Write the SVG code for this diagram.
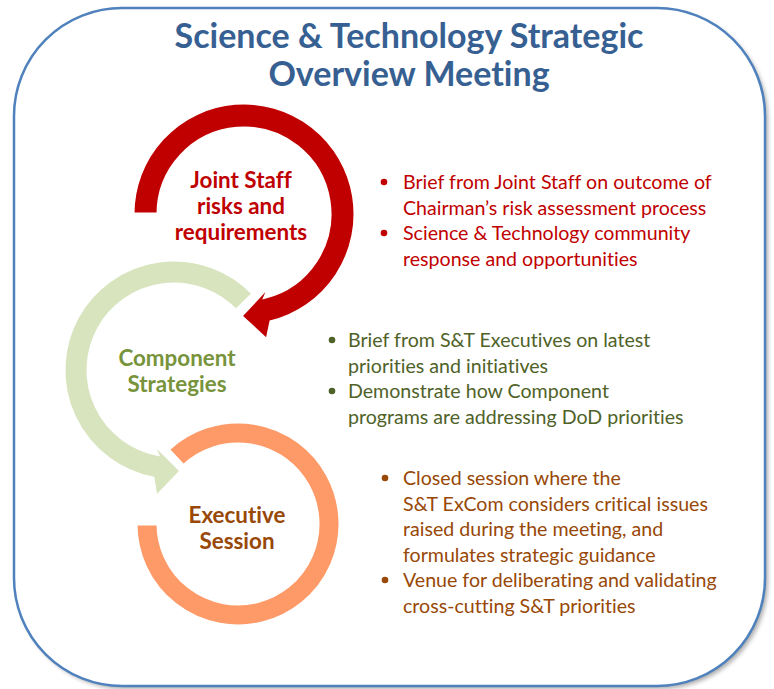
<svg xmlns="http://www.w3.org/2000/svg" width="774" height="689" viewBox="0 0 774 689">
<defs>
<filter id="sh" x="-5%" y="-5%" width="110%" height="110%"><feGaussianBlur stdDeviation="2"/></filter>
<style>
text{font-variant-ligatures:none;font-family:Lato,"Liberation Sans",sans-serif}
.title{font-weight:bold;font-size:34px;fill:#376092;text-anchor:middle}
.lbl{font-weight:bold;font-size:22.4px;text-anchor:middle}
.bt{font-size:19.6px}
.arc{stroke:#fff;stroke-width:3;stroke-linejoin:miter}
</style>
</defs>
<rect x="17" y="11" width="751" height="678" rx="108" fill="#777" opacity="0.6" filter="url(#sh)"/>
<rect x="14" y="8" width="751" height="678" rx="108" fill="#fff" stroke="#4F81BD" stroke-width="2.5"/>
<g id="title">
<text class="title" x="409" y="48">Science &amp; Technology Strategic</text>
<text class="title" x="409" y="86">Overview Meeting</text>
</g>
<g id="connectors">
<path id="orange-arc" class="arc" fill="#FD9A68" d="M168.4,449.4 A102,102 0 1 1 136,524 L158,524 A80,80 0 1 0 183.4,465.5 Z"/>
<path id="green-arc" class="arc" fill="#D7E4BD" d="M253.1,293.6 A110,110 0 1 0 153,478 L156,497 L181,471 L152,442 L157.6,454.4 A86,86 0 1 1 235.9,310.3 Z"/>
<path id="red-arc" class="arc" fill="#C00000" d="M133,214 A111,111 0 1 1 270.9,321.7 L267,340 L241,316 L270,285 L264.8,297.4 A86,86 0 1 0 158,214 Z"/>
</g>
<g id="joint-staff">
<text class="lbl" fill="#C00000"><tspan x="241" y="188">Joint Staff</tspan><tspan x="241" y="214">risks and</tspan><tspan x="241" y="240">requirements</tspan></text>
</g>
<g id="component-strategies">
<text class="lbl" fill="#77933C"><tspan x="177" y="366">Component</tspan><tspan x="177" y="392">Strategies</tspan></text>
</g>
<g id="executive-session">
<text class="lbl" fill="#984807"><tspan x="237" y="522.5">Executive</tspan><tspan x="237" y="548.5">Session</tspan></text>
</g>
<g id="joint-staff-notes" fill="#C00000">
<circle cx="384" cy="182" r="3.3"/><circle cx="384" cy="233" r="3.3"/>
<text class="bt" fill="#C00000"><tspan x="403" y="189">Brief from Joint Staff on outcome of</tspan><tspan x="403" y="214.5">Chairman’s risk assessment process</tspan><tspan x="403" y="240">Science &amp; Technology community</tspan><tspan x="403" y="265.5">response and opportunities</tspan></text>
</g>
<g id="component-notes" fill="#4F6228">
<circle cx="332" cy="340" r="3.3"/><circle cx="332" cy="391" r="3.3"/>
<text class="bt" fill="#4F6228"><tspan x="348" y="347">Brief from S&amp;T Executives on latest</tspan><tspan x="348" y="372.5">priorities and initiatives</tspan><tspan x="348" y="398">Demonstrate how Component</tspan><tspan x="348" y="423.5">programs are addressing DoD priorities</tspan></text>
</g>
<g id="executive-notes" fill="#984807">
<circle cx="385" cy="478" r="3.3"/><circle cx="385" cy="580" r="3.3"/>
<text class="bt" fill="#984807"><tspan x="403" y="485">Closed session where the</tspan><tspan x="403" y="510.5">S&amp;T ExCom considers critical issues</tspan><tspan x="403" y="536">raised during the meeting, and</tspan><tspan x="403" y="561.5">formulates strategic guidance</tspan><tspan x="403" y="587">Venue for deliberating and validating</tspan><tspan x="403" y="612.5">cross-cutting S&amp;T priorities</tspan></text>
</g>
</svg>
